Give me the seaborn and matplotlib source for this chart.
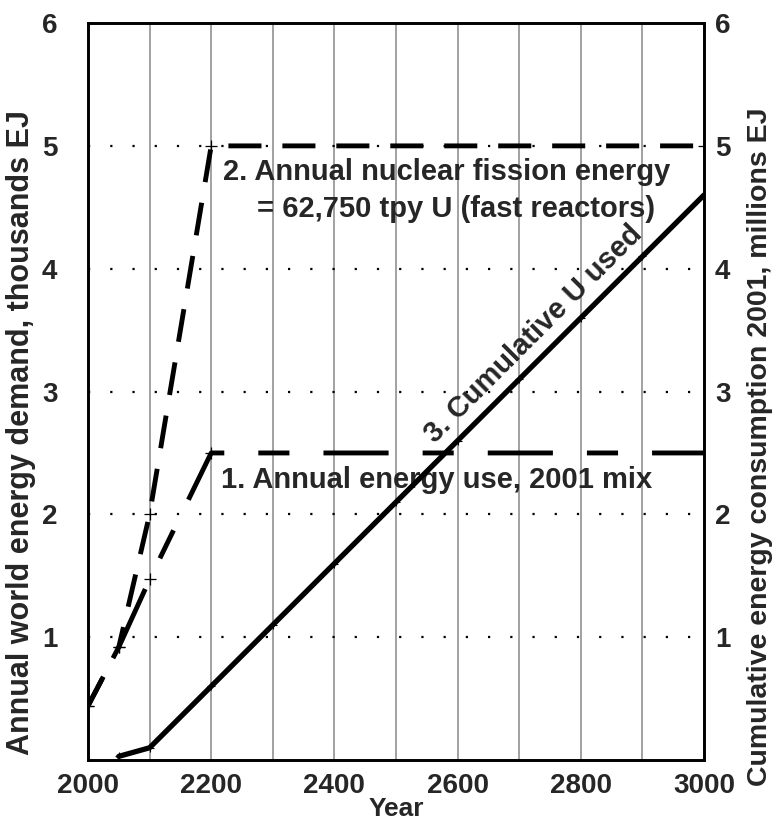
import matplotlib
matplotlib.use("Agg")
import matplotlib.pyplot as plt
import seaborn as sns
import pandas as pd

# ---- data ----
years_use = [2000, 2050, 2100, 2200, 3000]
annual_use = [0.44, 0.92, 1.47, 2.5, 2.5]            # 1. Annual energy use, 2001 mix

years_nuc = [2000, 2050, 2100, 2200, 3000]
annual_nuclear = [0.44, 0.92, 2.0, 5.0, 5.0]         # 2. Annual nuclear fission energy

years_cum = [2050, 2100, 2200, 2300, 2400, 2500, 2600, 2700, 2800, 2900, 3000]
cumulative_u = [0.03, 0.1, 0.6, 1.1, 1.6, 2.1, 2.6, 3.1, 3.6, 4.1, 4.6]  # 3. Cumulative U used

x_ticks = [2000, 2200, 2400, 2600, 2800, 3000]
y_ticks = [1, 2, 3, 4, 5, 6]

sns.set_theme(style="white")
plt.rcParams["font.family"] = ["Liberation Sans", "DejaVu Sans"]
plt.rcParams["font.weight"] = "bold"

fig = plt.figure(figsize=(7.78, 8.23), dpi=100)
ax = fig.add_axes([0.1131, 0.0765, 0.7918, 0.8955])

df_use = pd.DataFrame({"year": years_use, "value": annual_use})
df_nuc = pd.DataFrame({"year": years_nuc, "value": annual_nuclear})
df_cum = pd.DataFrame({"year": years_cum, "value": cumulative_u})

lw = 3.5
mk = dict(marker="+", markersize=8, markeredgewidth=0.9,
          markeredgecolor="black", markerfacecolor="black")
sns.lineplot(data=df_nuc, x="year", y="value", ax=ax, color="black", lw=lw,
             linestyle=(0, (6.8, 4.3)), zorder=5, **mk)
sns.lineplot(data=df_use, x="year", y="value", ax=ax, color="black", lw=lw,
             linestyle=(0, (6.4, 7.0, 13.4, 7.0)), zorder=5, **mk)

ax.set_xlim(2000, 3000)
ax.set_ylim(0, 6)
ax.set_xticks(x_ticks)
ax.set_xticks(range(2000, 3001, 100), minor=True)
ax.set_yticks(y_ticks)
ax.grid(False)
ax.grid(True, which="both", axis="x", color="#9a9a9a", lw=1.3, linestyle="-")
ax.grid(True, which="major", axis="y", color="black", lw=1.6, linestyle=(0, (1, 9)))
ax.set_axisbelow(True)

ax2 = ax.twinx()
sns.lineplot(data=df_cum, x="year", y="value", ax=ax2, color="black", lw=3.8,
             zorder=5, marker="+", markersize=6, markeredgewidth=0.8,
             markeredgecolor="black", markerfacecolor="black")
ax2.set_ylim(0, 6)
ax2.set_xlim(2000, 3000)
ax2.set_yticks(y_ticks)
ax2.grid(False)

for a in (ax, ax2):
    for s in a.spines.values():
        s.set_color("black")
        s.set_linewidth(1.9)
    a.tick_params(length=0)

ax.tick_params(axis="x", labelsize=20, pad=9)
ax.tick_params(axis="y", labelsize=20, pad=22)
ax2.tick_params(axis="y", labelsize=20, pad=8)
for lab in ax.get_xticklabels() + ax.get_yticklabels() + ax2.get_yticklabels():
    lab.set_fontweight("bold")

ax.set_xlabel("Year", fontsize=19, fontweight="bold", labelpad=-1)
ax.set_ylabel("Annual world energy demand, thousands EJ", fontsize=22,
              fontweight="bold")
ax.yaxis.set_label_coords(-0.085, 0.444)
ax2.set_ylabel("Cumulative energy consumption 2001, millions EJ", fontsize=20.5,
               fontweight="bold")
ax2.yaxis.set_label_coords(1.070, 0.425)

tfs = 21
ax.text(2219, 4.79, "2. Annual nuclear fission energy", fontsize=tfs,
        fontweight="bold", ha="left", va="center", zorder=6)
ax.text(2274, 4.49, "= 62,750 tpy U (fast reactors)", fontsize=tfs,
        fontweight="bold", ha="left", va="center", zorder=6)
ax.text(2216, 2.28, "1. Annual energy use, 2001 mix", fontsize=tfs,
        fontweight="bold", ha="left", va="center", zorder=6)
ax.text(2724, 3.47, "3. Cumulative U used", fontsize=tfs, fontweight="bold",
        ha="center", va="center", rotation=45, rotation_mode="anchor", zorder=6)

fig.savefig("out.png", dpi=100)
